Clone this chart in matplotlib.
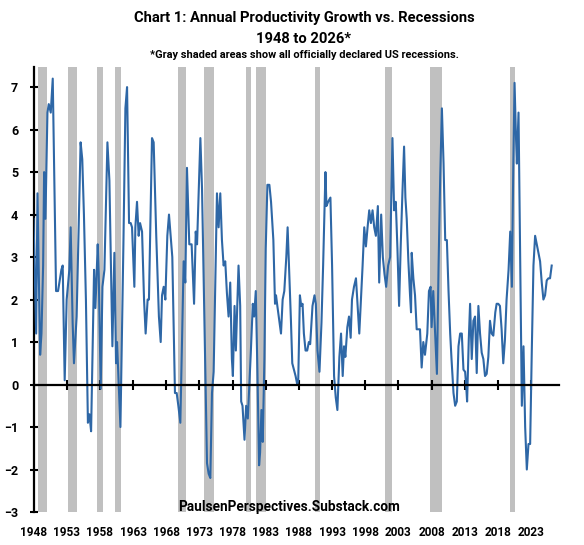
import matplotlib
matplotlib.use("Agg")
import matplotlib.pyplot as plt
import numpy as np

# --- data (decimal year, % y/y) ---
years = [
    1948.0, 1948.4, 1948.6, 1949.0, 1949.2, 1949.45, 1949.6, 1949.8, 1950.1, 1950.3,
    1950.6, 1950.9, 1951.4, 1951.7, 1952.0, 1952.2, 1952.4, 1952.7, 1953.0, 1953.4,
    1953.6, 1953.9, 1954.1, 1954.5, 1954.8, 1955.1, 1955.35, 1955.6, 1955.9, 1956.2,
    1956.43, 1956.68, 1957.13, 1957.33, 1957.68, 1957.83, 1958.13, 1958.39, 1958.69, 1959.14,
    1959.44, 1959.89, 1960.19, 1960.44, 1960.59, 1961.1, 1961.55, 1961.85, 1962.1, 1962.4,
    1962.65, 1962.85, 1963.2, 1963.35, 1963.6, 1963.85, 1964.06, 1964.36, 1964.66, 1964.9,
    1965.2, 1965.4, 1965.86, 1966.11, 1966.5, 1966.9, 1967.17, 1967.37, 1967.62, 1967.87,
    1968.17, 1968.42, 1968.92, 1969.32, 1969.58, 1969.83, 1970.13, 1970.63, 1970.88, 1971.13,
    1971.48, 1971.83, 1972.2, 1972.45, 1972.65, 1973.15, 1973.4, 1974.15, 1974.4, 1974.65,
    1974.9, 1975.15, 1975.65, 1975.9, 1976.15, 1976.4, 1976.65, 1976.9, 1977.15, 1977.4,
    1977.65, 1977.9, 1978.05, 1978.3, 1978.5, 1978.9, 1979.15, 1979.3, 1979.5, 1979.8,
    1980.05, 1980.3, 1980.75, 1981.05, 1981.25, 1981.5, 1981.75, 1982.0, 1982.15, 1982.35,
    1982.55, 1982.8, 1983.0, 1983.25, 1983.55, 1983.8, 1984.15, 1984.4, 1984.55, 1984.75,
    1985.05, 1985.3, 1985.55, 1985.8, 1986.1, 1986.3, 1986.55, 1986.8, 1987.0, 1987.25,
    1987.5, 1987.75, 1987.9, 1988.15, 1988.35, 1988.55, 1988.75, 1989.0, 1989.25, 1989.5,
    1989.7, 1990.05, 1990.35, 1990.55, 1990.8, 1991.1, 1991.4, 1991.65, 1992.0, 1992.15,
    1992.4, 1992.75, 1993.0, 1993.3, 1993.55, 1993.8, 1994.1, 1994.35, 1994.6, 1994.8,
    1995.0, 1995.3, 1995.55, 1995.8, 1996.0, 1996.3, 1996.6, 1996.85, 1997.1, 1997.35,
    1997.6, 1997.85, 1998.1, 1998.35, 1998.6, 1998.85, 1999.1, 1999.35, 1999.6, 1999.9,
    2000.1, 2000.4, 2000.65, 2000.9, 2001.15, 2001.45, 2001.75, 2002.1, 2002.35, 2002.6,
    2002.85, 2003.1, 2003.35, 2003.6, 2003.85, 2004.05, 2004.25, 2004.5, 2004.75, 2004.9,
    2005.0, 2005.25, 2005.5, 2005.75, 2006.0, 2006.25, 2006.5, 2006.75, 2007.0, 2007.35,
    2007.6, 2007.85, 2008.0, 2008.25, 2008.5, 2008.8, 2009.05, 2009.3, 2009.55, 2009.8,
    2010.05, 2010.3, 2010.55, 2010.8, 2011.0, 2011.3, 2011.55, 2011.8, 2012.05, 2012.3,
    2012.55, 2012.8, 2013.05, 2013.2, 2013.35, 2013.6, 2013.8, 2014.05, 2014.3, 2014.55,
    2014.8, 2015.05, 2015.3, 2015.55, 2015.8, 2016.05, 2016.3, 2016.55, 2016.8, 2017.05,
    2017.3, 2017.6, 2017.8, 2018.05, 2018.3, 2018.55, 2018.8, 2019.05, 2019.3, 2019.6,
    2019.85, 2020.1, 2020.3, 2020.5, 2020.7, 2020.85, 2021.1, 2021.35, 2021.6, 2021.85,
    2022.1, 2022.35, 2022.6, 2022.85, 2023.1, 2023.35, 2023.6, 2023.85, 2024.1, 2024.35,
    2024.6, 2024.85, 2025.1, 2025.35, 2025.6, 2025.85, 2026.1,
]
growth = [
    3.9, 1.2, 4.5, 0.7, 1.2, 2.8, 5.0, 3.9, 6.4, 6.6,
    6.4, 7.2, 2.2, 2.2, 2.5, 2.7, 2.8, 0.1, 2.0, 2.7,
    3.7, 1.45, 0.5, 1.6, 3.6, 5.7, 5.3, 4.0, 2.0, -0.9,
    -0.7, -1.1, 2.7, 1.8, 3.3, 2.6, -0.1, 2.3, 2.7, 5.7,
    4.8, 0.9, 3.1, 0.5, 1.0, -1.0, 3.3, 6.5, 7.0, 3.8,
    3.8, 3.7, 2.3, 3.7, 4.3, 3.5, 3.8, 3.6, 2.0, 1.2,
    2.0, 2.0, 5.8, 5.7, 3.5, 1.6, 1.0, 2.1, 2.3, 2.0,
    3.5, 4.0, 3.0, -0.2, -0.2, -0.5, -0.9, 2.9, 2.4, 5.1,
    3.3, 3.3, 1.9, 3.6, 3.3, 5.8, 4.6, -1.85, -2.1, -2.2,
    -0.2, 0.3, 4.5, 3.7, 4.5, 3.4, 2.8, 2.9, 2.15, 1.6,
    2.4, 0.6, 0.2, 1.85, 0.8, 2.8, 1.85, -0.4, -0.5, -1.3,
    -0.5, -0.8, 0.75, 1.9, 1.6, 2.2, 0.3, -1.9, -1.6, -0.6,
    -1.35, 0.6, 3.2, 4.7, 4.7, 4.3, 3.4, 1.9, 2.1, 1.85,
    1.5, 1.2, 2.0, 2.2, 3.0, 3.7, 2.6, 1.5, 0.5, 0.35,
    0.2, 0.0, 0.1, 2.1, 1.85, 1.9, 1.2, 0.8, 0.8, 1.0,
    0.95, 1.85, 2.1, 1.9, 0.8, 0.3, 1.45, 2.8, 5.0, 4.2,
    4.3, 4.4, 2.8, 0.2, -0.3, -0.6, 0.65, 1.2, 0.2, 0.9,
    0.65, 1.35, 1.6, 1.1, 2.0, 2.3, 2.5, 1.85, 1.2, 2.0,
    2.8, 3.7, 3.25, 3.7, 4.1, 3.8, 4.1, 3.7, 3.5, 4.2,
    2.4, 4.0, 3.0, 2.6, 2.3, 2.8, 3.0, 5.8, 4.1, 4.3,
    3.2, 1.85, 3.3, 4.5, 5.6, 4.4, 3.9, 2.9, 2.1, 1.7,
    3.1, 2.5, 2.1, 1.3, 1.3, 1.3, 0.4, 1.0, 0.7, 1.2,
    2.2, 2.3, 1.35, 2.2, 1.3, 0.25, 2.8, 4.9, 6.5, 5.2,
    3.4, 3.4, 2.2, 1.2, 0.6, -0.2, -0.5, -0.4, 0.9, 1.2,
    1.2, 0.35, 0.3, 0.0, -0.4, 1.05, 1.9, 0.6, 1.5, 1.6,
    0.27, 1.85, 1.2, 0.75, 0.6, 0.2, 0.25, 0.65, 1.5, 1.2,
    1.15, 1.7, 1.9, 1.9, 1.85, 1.3, 0.5, 1.05, 2.0, 2.7,
    3.6, 2.3, 5.0, 7.1, 5.9, 5.2, 6.4, 3.0, -0.5, 0.9,
    -1.0, -2.0, -1.4, -1.4, 0.8, 2.8, 3.5, 3.3, 3.1, 2.9,
    2.4, 2.0, 2.1, 2.45, 2.5, 2.5, 2.8,
]

# NBER recessions (decimal years)
rec_start = [1948.75, 1953.25, 1957.5, 1960.25, 1969.75, 1973.75, 1980.0, 1981.5, 1990.5, 2001.0, 2007.75, 2019.75]
rec_end = [1950.0, 1954.5, 1958.5, 1961.25, 1971.0, 1975.25, 1980.75, 1983.0, 1991.25, 2002.0, 2009.5, 2020.5]

x_ticks = list(range(1948, 2024, 5))
y_ticks = list(range(-3, 8))

font = ['Roboto', 'DejaVu Sans']
plt.rcParams['font.family'] = font

fig = plt.figure(figsize=(5.84, 5.45), dpi=100)
ax = fig.add_axes([33.5 / 584, 1 - 512 / 545, (559 - 33.5) / 584, (512 - 66.7) / 545])

for s, e in zip(rec_start, rec_end):
    ax.axvspan(s, e, color='#c0c0c0', lw=0, zorder=1)

ax.plot(years, growth, color='#2e67a6', lw=1.5, zorder=3)

ax.set_xlim(1948, 2027.2)
ax.set_ylim(-3, 7.48)

# spines: y axis at left, x axis through zero
for side in ['top', 'right']:
    ax.spines[side].set_visible(False)
ax.spines['left'].set_linewidth(1.6)
ax.spines['bottom'].set_position(('data', 0))
ax.spines['bottom'].set_linewidth(1.6)
ax.spines['bottom'].set_zorder(4)

ax.set_xticks(x_ticks)
ax.tick_params(axis='x', direction='inout', length=7, width=1.5, labelbottom=False)
ax.set_yticks(y_ticks)
ax.tick_params(axis='y', direction='inout', length=6, width=1.5, pad=8)
for lbl in ax.get_yticklabels():
    lbl.set_fontweight('bold')
    lbl.set_fontsize(9)

# year labels along the bottom edge
sec = ax.secondary_xaxis('bottom')
sec.set_xticks(x_ticks)
sec.tick_params(length=0, pad=10)
sec.spines['bottom'].set_visible(False)
for lbl in sec.get_xticklabels():
    lbl.set_fontweight('bold')
    lbl.set_fontsize(8.5)

cx = 304 / 584
fig.text(cx, 1 - 18 / 545, 'Chart 1: Annual Productivity Growth vs. Recessions',
         ha='center', va='center', fontsize=10.6, fontweight='bold')
fig.text(cx, 1 - 39 / 545, '1948 to 2026*',
         ha='center', va='center', fontsize=10.6, fontweight='bold')
fig.text(cx, 1 - 55 / 545, '*Gray shaded areas show all officially declared US recessions.',
         ha='center', va='center', fontsize=7.9, fontweight='bold')
fig.text(289.5 / 584, 1 - 507 / 545, 'PaulsenPerspectives.Substack.com',
         ha='center', va='center', fontsize=9.8, fontweight='bold')

fig.savefig('out.png', dpi=100)
